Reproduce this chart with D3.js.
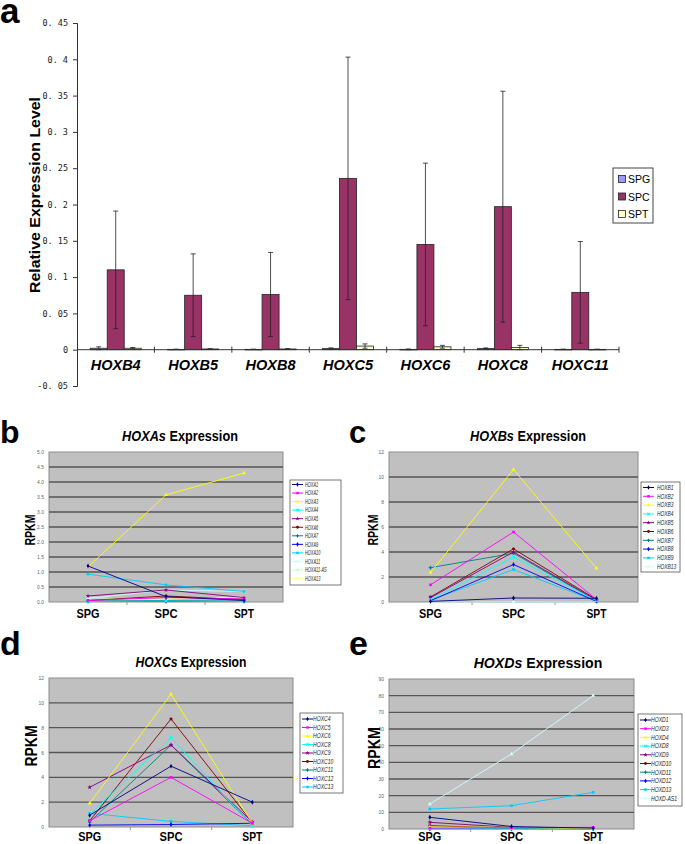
<!DOCTYPE html>
<html><head><meta charset="utf-8">
<script src="https://cdn.jsdelivr.net/npm/d3@7"></script>
<style>body{margin:0;background:#fff}svg{display:block}</style>
</head><body><svg id="chart" width="685" height="844"></svg>
<script>
// ---------- Panel a data ----------
const genesA = ["HOXB4","HOXB5","HOXB8","HOXC5","HOXC6","HOXC8","HOXC11"];
const groupsA = ["SPG","SPC","SPT"];
const spgValues = [0.002, 0.0005, 0.0005, 0.0015, 0.0005, 0.0015, 0.0005];
const spgErrors = [0.002, 0.0002, 0.0002, 0.001, 0.0005, 0.001, 0.0003];
const spcValues = [0.110, 0.075, 0.076, 0.236, 0.145, 0.197, 0.079];
const spcErrors = [0.081, 0.057, 0.058, 0.167, 0.112, 0.159, 0.070];
const sptValues = [0.002, 0.001, 0.001, 0.005, 0.004, 0.003, 0.0005];
const sptErrors = [0.001, 0.0004, 0.0004, 0.003, 0.002, 0.003, 0.0002];
const yTicksA = [-0.05, 0, 0.05, 0.1, 0.15, 0.2, 0.25, 0.3, 0.35, 0.4, 0.45];
const yTickLabelsA = ["-0. 05","0","0. 05","0. 1","0. 15","0. 2","0. 25","0. 3","0. 35","0. 4","0. 45"];
const barColors = ["#9999FF","#993366","#FFFFCC"];

// ---------- Line panels data ----------
const stages = ["SPG","SPC","SPT"];
const lineColors = ["#000080","#FF00FF","#FFFF00","#00FFFF","#800080","#800000","#008080","#0000FF","#00CCFF","#CCFFFF","#CCFFCC","#FFFF99"];

const hoxaNames = ["HOXA1","HOXA2","HOXA3","HOXA4","HOXA5","HOXA6","HOXA7","HOXA9","HOXA10","HOXA11","HOXA11-AS","HOXA13"];
const hoxaValues = [
  [1.2, 0.18, 0.05],
  [0.05, 0.15, 0.1],
  [1.17, 3.57, 4.3],
  [0.02, 0.03, 0.02],
  [0.2, 0.4, 0.15],
  [0.05, 0.2, 0.08],
  [0.03, 0.05, 0.03],
  [0.02, 0.02, 0.02],
  [0.93, 0.57, 0.35],
  [0.12, 0.4, 0.35],
  [0.15, 0.05, 0.05],
  [0.05, 0.1, 0.17]
];
const hoxaTicks = [0, 0.5, 1, 1.5, 2, 2.5, 3, 3.5, 4, 4.5, 5];

const hoxbNames = ["HOXB1","HOXB2","HOXB3","HOXB4","HOXB5","HOXB6","HOXB7","HOXB8","HOXB9","HOXB13"];
const hoxbValues = [
  [0.05, 0.32, 0.3],
  [1.37, 5.6, 0.2],
  [2.35, 10.6, 2.7],
  [0.2, 3.6, 0.1],
  [0.35, 4.0, 0.15],
  [0.4, 4.25, 0.2],
  [2.75, 3.9, 0.1],
  [0.1, 3.0, 0.05],
  [0.15, 2.6, 0.05],
  [0.0, 0.02, 0.0]
];
const hoxbTicks = [0, 2, 4, 6, 8, 10, 12];

const hoxcNames = ["HOXC4","HOXC5","HOXC6","HOXC8","HOXC9","HOXC10","HOXC11","HOXC12","HOXC13"];
const hoxcValues = [
  [0.95, 4.9, 2.0],
  [0.5, 4.0, 0.3],
  [1.9, 10.7, 0.3],
  [1.0, 7.2, 0.1],
  [3.2, 6.6, 0.4],
  [0.5, 8.7, 0.35],
  [0.4, 6.6, 0.2],
  [0.15, 0.2, 0.3],
  [1.1, 0.45, 0.1]
];
const hoxcTicks = [0, 2, 4, 6, 8, 10, 12];

const hoxdNames = ["HOXD1","HOXD3","HOXD4","HOXD8","HOXD9","HOXD10","HOXD11","HOXD12","HOXD13","HOXD-AS1"];
const hoxdValues = [
  [7, 1.5, 0.5],
  [0.5, 0.8, 1.0],
  [1.2, 1.0, 0.3],
  [0.2, 0.1, 0.1],
  [4, 1.0, 0.5],
  [2, 0.5, 0.3],
  [0.3, 0.3, 0.2],
  [0.2, 0.2, 0.1],
  [12, 14, 22],
  [15, 45, 80]
];
const hoxdTicks = [0, 10, 20, 30, 40, 50, 60, 70, 80, 90];

const svg = d3.select("#chart");
const SANS = "'Liberation Sans', Arial, sans-serif";

// ================= Panel a =================
(function(){
  const g = svg.append("g");
  const xA = d3.scaleBand().domain(genesA).range([77, 619]);
  const yA = d3.scaleLinear().domain([-0.05, 0.45]).range([386, 23]);
  const groupW = 51;
  const xSub = d3.scaleBand().domain(groupsA).range([0, groupW]);
  const series = [
    {name:"SPG", vals:spgValues, errs:spgErrors},
    {name:"SPC", vals:spcValues, errs:spcErrors},
    {name:"SPT", vals:sptValues, errs:sptErrors}
  ];

  g.append("text").attr("x", 0).attr("y", 23).text("a")
    .attr("font-family", SANS).attr("font-weight", "bold").attr("font-size", 35);

  // y axis
  const yAxis = d3.axisLeft(yA).tickValues(yTicksA)
    .tickFormat((d,i) => yTickLabelsA[i]).tickSize(4).tickPadding(5);
  const ya = g.append("g").attr("transform", "translate(77,0)").call(yAxis);
  ya.select(".domain").attr("stroke", "#333");
  ya.selectAll(".tick line").attr("stroke", "#333");
  ya.selectAll("text").attr("font-family", "'DejaVu Sans Mono', 'Liberation Mono', monospace")
    .attr("font-size", 8.5).attr("fill", "#222");

  // bars
  series.forEach((s, si) => {
    g.append("g").selectAll("rect").data(genesA).join("rect")
      .attr("x", (d) => xA(d) + (xA.bandwidth() - groupW) / 2 + xSub(s.name))
      .attr("width", xSub.bandwidth())
      .attr("y", (d, i) => yA(s.vals[i]))
      .attr("height", (d, i) => Math.max(0.6, yA(0) - yA(s.vals[i])))
      .attr("fill", barColors[si]).attr("stroke", "#222").attr("stroke-width", 0.8);
  });
  // error bars
  series.forEach((s) => {
    const eg = g.append("g").attr("stroke", "#222").attr("stroke-width", 0.8);
    genesA.forEach((gene, i) => {
      const cx = xA(gene) + (xA.bandwidth() - groupW) / 2 + xSub(s.name) + xSub.bandwidth() / 2;
      const top = yA(s.vals[i] + s.errs[i]), bot = yA(s.vals[i] - s.errs[i]);
      eg.append("line").attr("x1", cx).attr("x2", cx).attr("y1", top).attr("y2", bot);
      eg.append("line").attr("x1", cx - 2.5).attr("x2", cx + 2.5).attr("y1", top).attr("y2", top);
      eg.append("line").attr("x1", cx - 2.5).attr("x2", cx + 2.5).attr("y1", bot).attr("y2", bot);
    });
  });

  // x axis line at 0 with crossing ticks
  g.append("line").attr("x1", 77).attr("x2", 619).attr("y1", yA(0)).attr("y2", yA(0))
    .attr("stroke", "#333").attr("stroke-width", 1);
  const bounds = genesA.map(d => xA(d)).concat([xA.range()[1]]);
  g.append("g").selectAll("line").data(bounds.slice(1)).join("line")
    .attr("x1", d => d).attr("x2", d => d).attr("y1", yA(0) - 3).attr("y2", yA(0) + 3)
    .attr("stroke", "#333");

  // category labels
  g.append("g").selectAll("text").data(genesA).join("text")
    .attr("x", d => xA(d) + xA.bandwidth() / 2).attr("y", 370)
    .attr("text-anchor", "middle").attr("font-family", SANS)
    .attr("font-weight", "bold").attr("font-style", "italic").attr("font-size", 14.5)
    .text(d => d);

  // y label
  g.append("text").attr("transform", "translate(40,195) rotate(-90)")
    .attr("text-anchor", "middle").attr("font-family", SANS).attr("font-weight", "bold")
    .attr("font-size", 14.5).attr("textLength", 196).attr("lengthAdjust", "spacingAndGlyphs")
    .text("Relative Expression Level");

  // legend
  const lg = g.append("g");
  lg.append("rect").attr("x", 613).attr("y", 168).attr("width", 40).attr("height", 55)
    .attr("fill", "#fff").attr("stroke", "#444").attr("stroke-width", 1);
  groupsA.forEach((n, i) => {
    const cy = 179 + i * 17.5;
    lg.append("rect").attr("x", 618.5).attr("y", cy - 3.5).attr("width", 7).attr("height", 7)
      .attr("fill", barColors[i]).attr("stroke", "#222").attr("stroke-width", 0.8);
    lg.append("text").attr("x", 628).attr("y", cy + 4).attr("font-family", SANS)
      .attr("font-size", 10.5).text(n);
  });
})();

// ================= Line panels =================
const symbolTypes = [d3.symbolDiamond, d3.symbolSquare, d3.symbolTriangle, d3.symbolCross, d3.symbolStar,
  d3.symbolCircle, d3.symbolCross, d3.symbolDiamond, d3.symbolSquare, d3.symbolTriangle, d3.symbolCircle, d3.symbolSquare];

function linePanel(cfg) {
  const g = svg.append("g");
  const x = d3.scaleBand().domain(stages).range([cfg.x0, cfg.x1]);
  const y = d3.scaleLinear().domain([0, cfg.ymax]).range([cfg.y1, cfg.y0]);
  const cx = d => x(d) + x.bandwidth() / 2;

  // panel letter
  g.append("text").attr("x", cfg.letterX).attr("y", cfg.letterY).text(cfg.letter)
    .attr("font-family", SANS).attr("font-weight", "bold").attr("font-size", cfg.letterFs);

  // title (horizontally condensed like the original)
  const t = g.append("g").attr("transform", `translate(${cfg.titleX},${cfg.titleY}) scale(${cfg.titleW / 138},1)`)
    .append("text").attr("x", 0).attr("y", 0)
    .attr("text-anchor", "middle").attr("font-family", SANS).attr("font-weight", "bold")
    .attr("font-size", 15);
  t.append("tspan").attr("font-style", "italic").text(cfg.family);
  t.append("tspan").text(" Expression");

  // plot background
  g.append("rect").attr("x", cfg.x0).attr("y", cfg.y0)
    .attr("width", cfg.x1 - cfg.x0).attr("height", cfg.y1 - cfg.y0)
    .attr("fill", "#c0c0c0").attr("stroke", "#8c8c8c").attr("stroke-width", 1);

  // gridlines
  g.append("g").selectAll("line").data(cfg.ticks.filter(v => v > 0 && v < cfg.ymax)).join("line")
    .attr("x1", cfg.x0).attr("x2", cfg.x1).attr("y1", d => y(d)).attr("y2", d => y(d))
    .attr("stroke", "#555").attr("stroke-width", 1.3);

  // y axis labels
  const ax = g.append("g").attr("transform", `translate(${cfg.x0},0)`)
    .call(d3.axisLeft(y).tickValues(cfg.ticks).tickSize(0).tickPadding(5));
  ax.select(".domain").remove();
  ax.selectAll("text").attr("font-family", SANS).attr("font-size", 5).attr("fill", "#666");

  // bottom ticks at category boundaries
  const bnds = stages.map(s => x(s)).slice(1);
  g.append("g").selectAll("line").data(bnds).join("line")
    .attr("x1", d => d).attr("x2", d => d).attr("y1", cfg.y1).attr("y2", cfg.y1 + 3)
    .attr("stroke", "#999");

  // x labels
  g.append("g").selectAll("text").data(stages).join("text")
    .attr("x", d => cx(d)).attr("y", cfg.labelY)
    .attr("text-anchor", "middle").attr("font-family", SANS).attr("font-weight", "bold")
    .attr("font-size", 13).attr("textLength", d => d === "SPT" ? 20 : 23)
    .attr("lengthAdjust", "spacingAndGlyphs").text(d => d);

  // RPKM
  g.append("text").attr("transform", `translate(${cfg.rpkmX},${cfg.rpkmY}) rotate(-90)`)
    .attr("text-anchor", "middle").attr("font-family", SANS).attr("font-weight", "bold")
    .attr("font-size", cfg.rpkmFs).attr("textLength", cfg.rpkmLen).attr("lengthAdjust", "spacingAndGlyphs")
    .text("RPKM");

  // lines
  const line = d3.line().x(d => cx(d.s)).y(d => y(d.v));
  const order = d3.range(cfg.names.length).reverse();
  order.forEach(i => {
    const pts = stages.map((s, j) => ({s, v: cfg.values[i][j]}));
    g.append("path").datum(pts).attr("d", line).attr("fill", "none")
      .attr("stroke", lineColors[i]).attr("stroke-width", 0.9);
    g.append("g").selectAll("path").data(pts).join("path")
      .attr("transform", d => `translate(${cx(d.s)},${y(d.v)})` + (i === 3 ? " rotate(45)" : ""))
      .attr("d", d3.symbol(symbolTypes[i], 7))
      .attr("fill", lineColors[i]);
  });

  // legend
  const L = cfg.legend;
  const lg = g.append("g");
  lg.append("rect").attr("x", L.x).attr("y", L.y).attr("width", L.w).attr("height", L.h)
    .attr("fill", "#fff").attr("stroke", "#555").attr("stroke-width", 0.8);
  cfg.names.forEach((n, i) => {
    const yy = L.first + i * L.step;
    lg.append("line").attr("x1", L.x + 2).attr("x2", L.x + 13).attr("y1", yy).attr("y2", yy)
      .attr("stroke", lineColors[i]).attr("stroke-width", 1);
    lg.append("path").attr("transform", `translate(${L.x + 7.5},${yy})` + (i === 3 ? " rotate(45)" : ""))
      .attr("d", d3.symbol(symbolTypes[i], 6)).attr("fill", lineColors[i]);
    lg.append("g").attr("transform", `translate(${L.x + L.tx},${yy + 2.3}) scale(${L.scale},1)`)
      .append("text").attr("font-family", SANS).attr("font-style", "italic")
      .attr("font-size", L.fs).attr("fill", "#222").text(n);
  });
}

linePanel({family:"HOXAs", names:hoxaNames, values:hoxaValues, ticks:hoxaTicks, ymax:5,
  x0:49, x1:283, y0:452, y1:602, letter:"b", letterX:0, letterY:443, letterFs:32,
  titleX:180, titleY:441, titleW:117, labelY:618, rpkmX:35, rpkmY:530, rpkmFs:14, rpkmLen:31,
  legend:{x:290, y:480, w:51, h:105, first:484.5, step:8.55, tx:15, scale:0.6, fs:6.5}});

linePanel({family:"HOXBs", names:hoxbNames, values:hoxbValues, ticks:hoxbTicks, ymax:12,
  x0:389, x1:638, y0:452, y1:602, letter:"c", letterX:349, letterY:443, letterFs:31,
  titleX:528, titleY:441, titleW:117, labelY:618, rpkmX:378, rpkmY:530, rpkmFs:14, rpkmLen:31,
  legend:{x:641, y:482, w:39, h:90, first:487.5, step:8.8, tx:16, scale:0.75, fs:6.5}});

linePanel({family:"HOXCs", names:hoxcNames, values:hoxcValues, ticks:hoxcTicks, ymax:12,
  x0:49, x1:293, y0:678, y1:827, letter:"d", letterX:0, letterY:655, letterFs:34,
  titleX:191, titleY:667, titleW:112, labelY:841, rpkmX:37, rpkmY:746, rpkmFs:17, rpkmLen:41,
  legend:{x:300, y:713, w:43, h:80, first:719, step:8.5, tx:13, scale:0.75, fs:6.8}});

linePanel({family:"HOXDs", names:hoxdNames, values:hoxdValues, ticks:hoxdTicks, ymax:90,
  x0:389, x1:634, y0:679, y1:829, letter:"e", letterX:349, letterY:655, letterFs:34,
  titleX:538, titleY:668, titleW:130, labelY:841, rpkmX:380, rpkmY:748, rpkmFs:17, rpkmLen:42,
  legend:{x:638, y:714, w:44, h:92, first:720, step:8.7, tx:13, scale:0.75, fs:6.8}});
</script>
</body></html>
